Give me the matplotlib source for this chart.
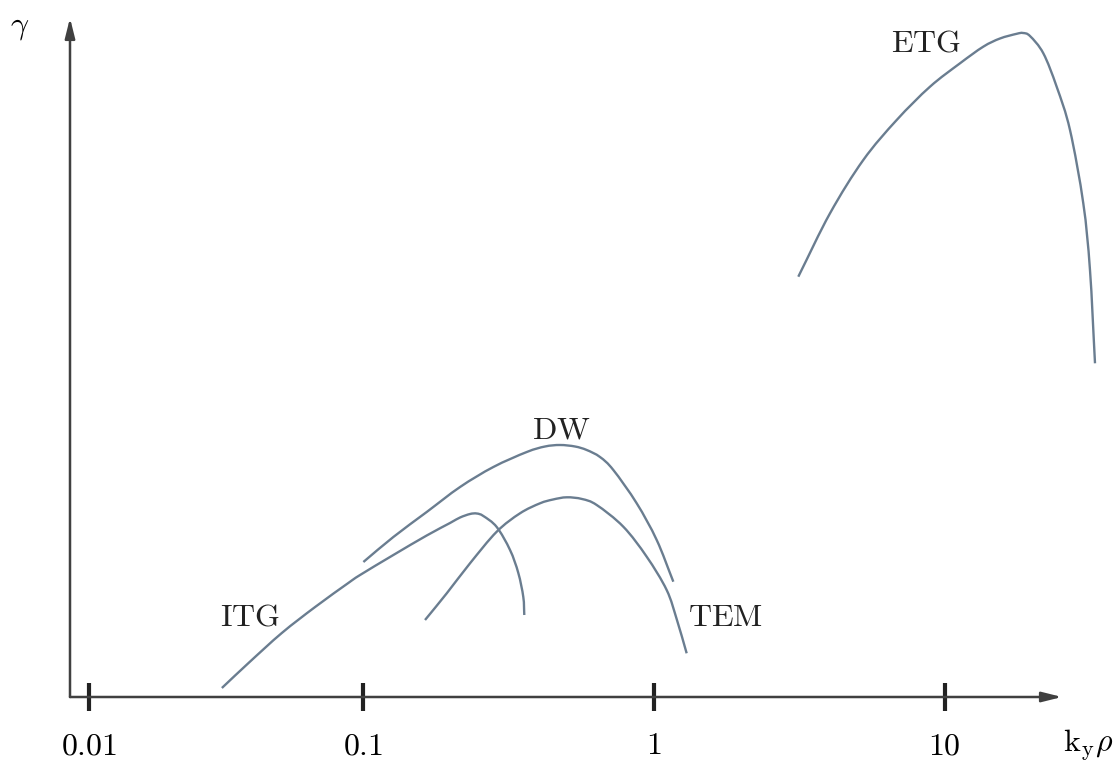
import numpy as np
import matplotlib
matplotlib.use("Agg")
import matplotlib.pyplot as plt
from matplotlib.path import Path
from matplotlib.patches import PathPatch

plt.rcParams["mathtext.fontset"] = "cm"

# Growth-rate branches (arbitrary units) versus k_y rho
itg_k = [0.0328, 0.0405, 0.0527, 0.0686, 0.0892, 0.0979, 0.1274, 0.1659, 0.1995,
         0.2160, 0.2337, 0.2465, 0.2597, 0.2887, 0.3208, 0.3425, 0.3563, 0.3591]
itg_gamma = [0.09, 0.34, 0.64, 0.90, 1.14, 1.22, 1.42, 1.615, 1.74,
             1.795, 1.83, 1.835, 1.81, 1.70, 1.47, 1.24, 1.00, 0.82]

dw_k = [0.1005, 0.1274, 0.1659, 0.2160, 0.2811, 0.3662, 0.4231, 0.4764, 0.5365,
        0.5885, 0.6538, 0.7265, 0.8741, 1.024, 1.168]
dw_gamma = [1.35, 1.60, 1.85, 2.10, 2.30, 2.45, 2.505, 2.52, 2.505,
            2.47, 2.40, 2.27, 1.937, 1.57, 1.153]

tem_k = [0.1637, 0.1944, 0.2337, 0.2887, 0.3472, 0.4067, 0.4508, 0.5024, 0.5670,
         0.6369, 0.7862, 0.9460, 1.108, 1.202, 1.298]
tem_gamma = [0.77, 1.037, 1.337, 1.653, 1.837, 1.937, 1.975, 1.997, 1.98,
             1.92, 1.703, 1.403, 1.07, 0.77, 0.437]

etg_k = [3.140, 4.036, 5.252, 6.841, 8.904, 11.29, 13.57, 15.49, 17.68, 18.58,
         19.64, 21.83, 24.26, 26.96, 29.95, 31.58, 32.86]
etg_gamma = [4.203, 4.837, 5.37, 5.77, 6.103, 6.337, 6.503, 6.585, 6.632, 6.64,
             6.61, 6.437, 6.103, 5.67, 4.937, 4.27, 3.337]

tick_values = [0.0115, 0.1, 1, 10]
tick_labels = ["0.01", "0.1", "1", "10"]

branch_names = ["ITG", "DW", "TEM", "ETG"]
label_k = [0.041, 0.48, 1.77, 8.63]
label_gamma = [0.80, 2.67, 0.80, 6.54]

line_color = "#6a7d90"
axis_color = "#404040"


def smooth_branch(k, g):
    """Catmull-Rom curve through the points, built in log10(k) space."""
    lx = np.log10(np.asarray(k, float))
    y = np.asarray(g, float)
    px = np.concatenate([[2 * lx[0] - lx[1]], lx, [2 * lx[-1] - lx[-2]]])
    py = np.concatenate([[2 * y[0] - y[1]], y, [2 * y[-1] - y[-2]]])
    verts = [(lx[0], y[0])]
    codes = [Path.MOVETO]
    for i in range(1, len(px) - 2):
        c1 = (px[i] + (px[i + 1] - px[i - 1]) / 6, py[i] + (py[i + 1] - py[i - 1]) / 6)
        c2 = (px[i + 1] - (px[i + 2] - px[i]) / 6, py[i + 1] - (py[i + 2] - py[i]) / 6)
        verts += [c1, c2, (px[i + 1], py[i + 1])]
        codes += [Path.CURVE4] * 3
    verts = [(10 ** vx, vy) for vx, vy in verts]
    return Path(verts, codes)


fig = plt.figure(figsize=(11.16, 7.68), dpi=100)
ax = fig.add_axes([70 / 1116, 71 / 768, 1046 / 1116, 679 / 768])
ax.set_xscale("log")
xmin, xmax = 0.00986, 38.8
ax.set_xlim(xmin, xmax)
ax.set_ylim(0, 6.79)

for k, g in [(itg_k, itg_gamma), (dw_k, dw_gamma), (tem_k, tem_gamma), (etg_k, etg_gamma)]:
    ax.add_patch(PathPatch(smooth_branch(k, g), facecolor="none", edgecolor=line_color,
                           lw=1.7, capstyle="butt", joinstyle="round", clip_on=False))

for name, k, g in zip(branch_names, label_k, label_gamma):
    ax.text(k, g, r"$\mathrm{%s}$" % name, fontsize=23, ha="center", va="center", color="#222222")

for s in ax.spines.values():
    s.set_visible(False)

arrow = dict(arrowstyle="-|>,head_length=0.6,head_width=0.15", color=axis_color,
             lw=1.8, shrinkA=0, shrinkB=0, mutation_scale=20)
ax.annotate("", xy=(25.3, 0), xytext=(xmin, 0), arrowprops=arrow, annotation_clip=False)
ax.annotate("", xy=(xmin, 6.79), xytext=(xmin, 0), arrowprops=arrow, annotation_clip=False)

ax.set_xticks(tick_values)
ax.set_xticklabels([r"$%s$" % t for t in tick_labels], fontsize=23)
ax.minorticks_off()
ax.tick_params(axis="x", direction="inout", length=20, width=3, color="#222222", pad=14)
ax.set_yticks([])

fig.text(20 / 1116, 1 - 26 / 768, r"$\gamma$", fontsize=23, ha="center", va="center")
fig.text(1088 / 1116, 1 - 745 / 768, r"$\mathrm{k}_\mathrm{y}\rho$", fontsize=23, ha="center", va="center")

fig.savefig("out.png", dpi=100, facecolor="white")
